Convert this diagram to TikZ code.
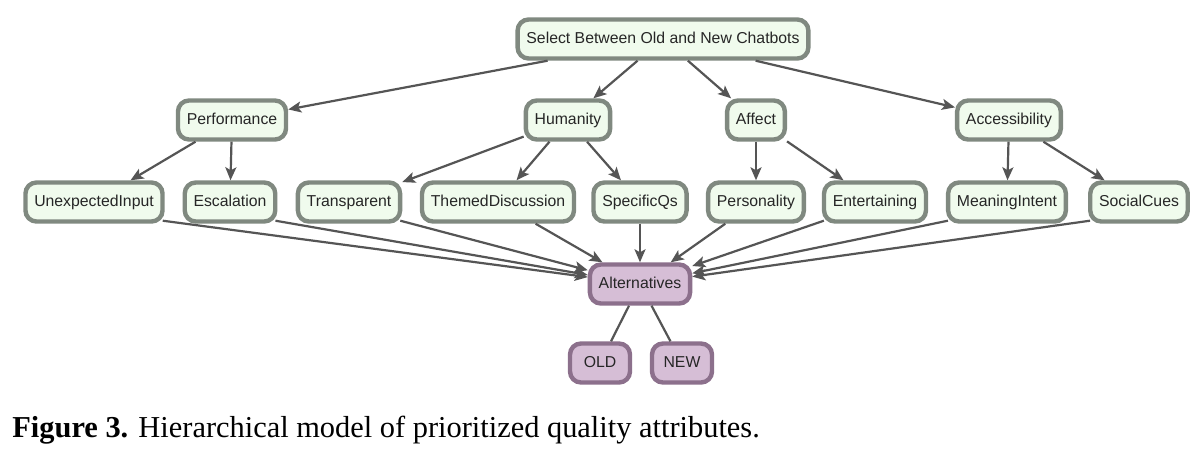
\documentclass[tikz,border=0pt]{standalone}
\usepackage{fontspec}
\setmainfont{Liberation Serif}
\newfontfamily\arialf{Liberation Sans}
\usetikzlibrary{arrows.meta}
\definecolor{gfill}{RGB}{240,251,237}
\definecolor{gdraw}{RGB}{128,137,128}
\definecolor{pfill}{RGB}{214,190,214}
\definecolor{pdraw}{RGB}{140,112,140}
\definecolor{edgec}{RGB}{85,85,85}
\begin{document}
\begin{tikzpicture}[x=0.5pt,y=-0.5pt,
  gnode/.style={draw=gdraw, fill=gfill, line width=2.2pt, rounded corners=5.5pt,
    minimum height=19.5pt, inner xsep=4.4pt, inner ysep=2pt,
    text height=6pt, text depth=1.7pt,
    font=\arialf\fontsize{7.9}{9}\selectfont, text=black!85},
  pnode/.style={gnode, draw=pdraw, fill=pfill},
  arr/.style={draw=edgec, line width=1.1pt, -{Stealth[length=6.5pt,width=5.5pt,inset=1.5pt]}},
  ln/.style={draw=edgec, line width=1.1pt}]
\useasboundingbox[fill=white] (0,0) rectangle (1199,456);

\node[gnode] (top) at (663,39) {Select Between Old and New Chatbots};

\node[gnode] (perf) at (232,120) {Performance};
\node[gnode] (hum)  at (568,120) {Humanity};
\node[gnode] (aff)  at (756,120) {Affect};
\node[gnode] (acc)  at (1009,120) {Accessibility};

\node[gnode] (unex) at (94,202) {UnexpectedInput};
\node[gnode] (esc)  at (230,202) {Escalation};
\node[gnode] (trans) at (349,202) {Transparent};
\node[gnode] (theme) at (498,202) {ThemedDiscussion};
\node[gnode] (spec) at (640,202) {SpecificQs};
\node[gnode] (pers) at (756,202) {Personality};
\node[gnode] (ent)  at (875,202) {Entertaining};
\node[gnode] (mean) at (1007,202) {MeaningIntent};
\node[gnode] (soc)  at (1139,202) {SocialCues};

\node[pnode] (alt) at (640,284) {Alternatives};
\node[pnode, minimum width=30pt] (old) at (600,363) {OLD};
\node[pnode, minimum width=30pt] (new) at (682,363) {NEW};

\foreach \t in {perf,hum,aff,acc} \draw[arr] (top) -- (\t);
\draw[arr] (perf) -- (unex);
\draw[arr] (perf) -- (esc);
\draw[arr] (hum) -- (trans);
\draw[arr] (hum) -- (theme);
\draw[arr] (hum) -- (spec);
\draw[arr] (aff) -- (pers);
\draw[arr] (aff) -- (ent);
\draw[arr] (acc) -- (mean);
\draw[arr] (acc) -- (soc);

\foreach \s in {unex,esc,trans} \draw[arr] ([xshift=-1pt,yshift=1.5pt]\s.south east) -- (alt);
\foreach \s in {theme,spec,pers} \draw[arr] (\s) -- (alt);
\foreach \s in {ent,mean,soc} \draw[arr] ([xshift=1pt,yshift=1.5pt]\s.south west) -- (alt);

\draw[ln] (alt) -- (old);
\draw[ln] (alt) -- (new);

\node[anchor=base west, inner sep=0pt, font=\fontsize{15.2}{18}\selectfont] (cap) at (12,437)
  {\textbf{Figure 3.} Hierarchical model of prioritized quality attributes.};
\end{tikzpicture}
\end{document}
